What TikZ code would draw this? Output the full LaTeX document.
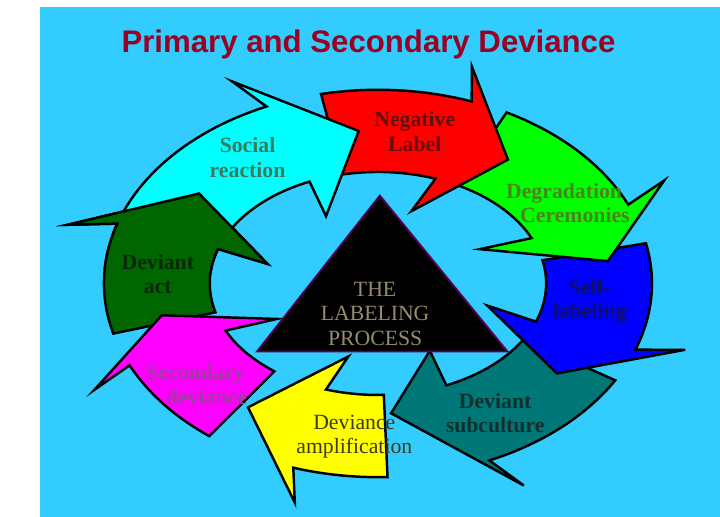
\documentclass[tikz,border=0pt]{standalone}
\usepackage{fontspec}
\setmainfont{Liberation Serif}
\newfontfamily\titlefont{Liberation Sans}
\definecolor{bg}{HTML}{33CCFF}
\definecolor{titlered}{HTML}{990022}
\definecolor{cyanA}{HTML}{00FFFF}
\definecolor{redA}{HTML}{FF0000}
\definecolor{greenA}{HTML}{00FF00}
\definecolor{blueA}{HTML}{0000FF}
\definecolor{tealA}{HTML}{007777}
\definecolor{yellowA}{HTML}{FFFF00}
\definecolor{magA}{HTML}{FF00FF}
\definecolor{dgreenA}{HTML}{006600}
% colour, start, end, tip angle, tip radius factor
\newcommand\ringseg[5]{%
\filldraw[fill=#1,draw=black,line width=1.3pt,line join=miter]
 plot[domain=#2:#3,samples=30] ({290*cos(\x)},{205*sin(\x)})
 -- ({340*cos(#3+3)},{240*sin(#3+3)}) -- ({#5*234*cos(#4)},{#5*162*sin(#4)})
 -- ({121*cos(#3+3)},{80*sin(#3+3)})
 -- plot[domain=#3:#2,samples=30] ({178*cos(\x)},{118*sin(\x)}) -- cycle;}
\tikzset{lab/.style={align=center,font=\bfseries\fontsize{11.5}{13}\selectfont}}
\begin{document}
\begin{tikzpicture}[x=0.5pt,y=0.5pt]
\fill[bg] (0,0) rectangle (720,540);
\node[font=\titlefont\bfseries\fontsize{16.5}{18}\selectfont,text=titlered] (title) at (348,500) {Primary and Secondary Deviance};
\begin{scope}[shift={(358,247)}]
\ringseg{dgreenA}{195}{162}{144}{1.0}
\ringseg{magA}{-128}{-155}{-168}{1.0}
\ringseg{yellowA}{-88}{-108}{-126}{1.0}
\ringseg{tealA}{-30}{-66}{-86}{0.85}
\ringseg{blueA}{12}{-20}{-36}{1.0}
\ringseg{greenA}{62}{24}{8}{1.05}
\ringseg{redA}{102}{70}{54}{1.0}
\ringseg{cyanA}{165}{114}{95}{1.0}
\begin{scope}
\clip (-400,15) rectangle (-60,300);
\ringseg{dgreenA}{195}{162}{144}{1.0}
\end{scope}
\end{scope}
\filldraw[fill=black,draw=violet!70!black,line width=1pt] (360,340) -- (495,175) -- (230,175) -- cycle;
\node[lab,text={rgb,255:red,60;green,122;blue,90}] (soc) at (220,380) {Social\\reaction};
\node[lab,text={rgb,255:red,100;green,16;blue,16}] (neg) at (397,408) {Negative\\Label};
\node[lab,text={rgb,255:red,70;green,135;blue,25}] (deg) at (555,332) {Degradation\\\quad Ceremonies};
\node[lab,text={rgb,255:red,10;green,40;blue,10}] (act) at (125,257) {Deviant\\act};
\node[lab,font=\fontsize{11.5}{13}\selectfont,text={rgb,255:red,150;green,140;blue,110}] (proc) at (355,215) {THE\\LABELING\\PROCESS};
\node[lab,text={rgb,255:red,16;green,16;blue,96}] (self) at (582,228) {Self-\\labeling};
\node[lab,text={rgb,255:red,160;green,60;blue,160}] (sec) at (165,140) {Secondary\\\quad deviance};
\node[lab,font=\fontsize{11.5}{13}\selectfont,text={rgb,255:red,60;green,60;blue,20}] (amp) at (333,85) {Deviance\\amplification};
\node[lab,text={rgb,255:red,16;green,48;blue,48}] (sub) at (482,110) {Deviant\\subculture};
\end{tikzpicture}
\end{document}
